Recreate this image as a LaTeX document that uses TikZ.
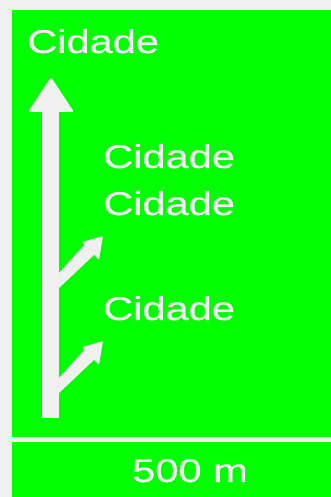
\documentclass[tikz,border=0pt]{standalone}
\usepackage{fontspec}
\setmainfont{Liberation Sans}
\newfontfamily\signfont{Liberation Sans}[FakeBold=0.8]
\definecolor{signgreen}{HTML}{00FF00}
\definecolor{signwhite}{HTML}{F0F0F0}
\tikzset{
  lbl/.style={text=signwhite, font=\signfont\fontsize{33}{40}\selectfont, inner sep=0pt, anchor=base west},
  arrowfill/.style={fill=signwhite, draw=none}
}
\newcommand{\wide}[1]{\scalebox{1.26}[1]{#1}}
\begin{document}
\begin{tikzpicture}[x=1pt,y=-1pt]
\useasboundingbox (0,0) rectangle (331,497);
% background
\fill[signwhite] (0,0) rectangle (331,497);
\fill[signgreen] (12,10) rectangle (331,497);
% divider
\fill[signwhite] (12,437) rectangle (331,442);
% main arrow
\fill[arrowfill] (42,418) rectangle (59,110);
\fill[arrowfill, rounded corners=1.5pt] (28,112) -- (51,77) -- (74,112) -- cycle;
% branch arrows
\foreach \dy in {0,105}{
  \begin{scope}[yshift=-\dy pt]
    \fill[arrowfill] (58,274) -- (58,289) -- (96,253) -- (86,243) -- cycle;
    \fill[arrowfill, rounded corners=1pt] (82,242) -- (103,236) -- (99,260) -- cycle;
  \end{scope}
}
% texts
\node[lbl] (cityA) at (27,53) {\wide{Cidade}};
\node[lbl] (cityB) at (103,168) {\wide{Cidade}};
\node[lbl] (cityC) at (103,215) {\wide{Cidade}};
\node[lbl] (cityD) at (103,320) {\wide{Cidade}};
\node[lbl] (dist) at (132,482) {\wide{500 m}};
\end{tikzpicture}
\end{document}
